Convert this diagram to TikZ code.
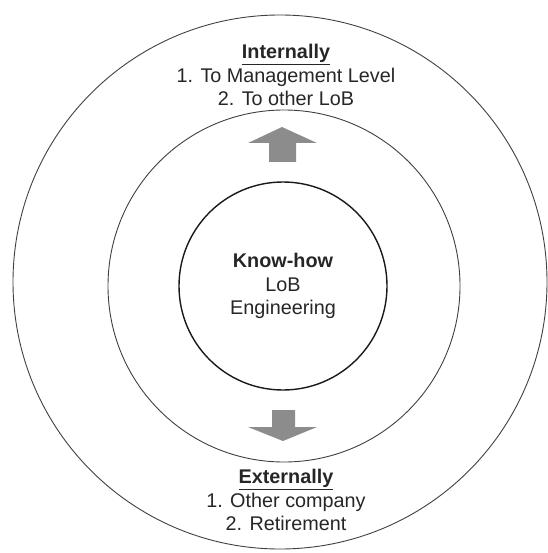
\documentclass[tikz,border=0pt]{standalone}
\usepackage{fontspec}
\setmainfont{Liberation Sans}
\usetikzlibrary{positioning}

\tikzset{
	ring/.style={circle, draw=black!75, line width=0.9pt, inner sep=0pt},
	core/.style={ring, draw=black!90, line width=1.4pt},
	label/.style={align=center, text=black!85, font=\fontsize{19.8}{23.5}\selectfont},
	blockarrow/.style={fill=black!45, draw=none}
}

\begin{document}
\begin{tikzpicture}[x=1pt, y=-1pt]
		\useasboundingbox (0,0) rectangle (547,553);
		% rings
		\node [ring, minimum size=534pt] (outer) at (280, 282) {};
		\node [ring, minimum size=352pt] (middle) at (284, 286) {};
		\node [core, minimum size=208pt] (inner) at (283, 286) {};
		% texts
		\node [label] (know) at (283, 286) {\textbf{Know-how}\\LoB\\Engineering};
		\node [label] (intern) at (286, 75) {\underline{\textbf{Internally}}\\1. To Management Level\\2. To other LoB};
		\node [label] (extern) at (286, 500) {\underline{\textbf{Externally}}\\1. Other company\\2. Retirement};
		% arrows
		\fill [blockarrow] (282, 127) -- (317, 143) -- (296, 143) -- (296, 162) -- (269, 162) -- (269, 143) -- (248, 143) -- cycle;
		\fill [blockarrow] (283, 441) -- (317, 427) -- (295, 427) -- (295, 410) -- (272, 410) -- (272, 427) -- (248, 427) -- cycle;
\end{tikzpicture}
\end{document}
